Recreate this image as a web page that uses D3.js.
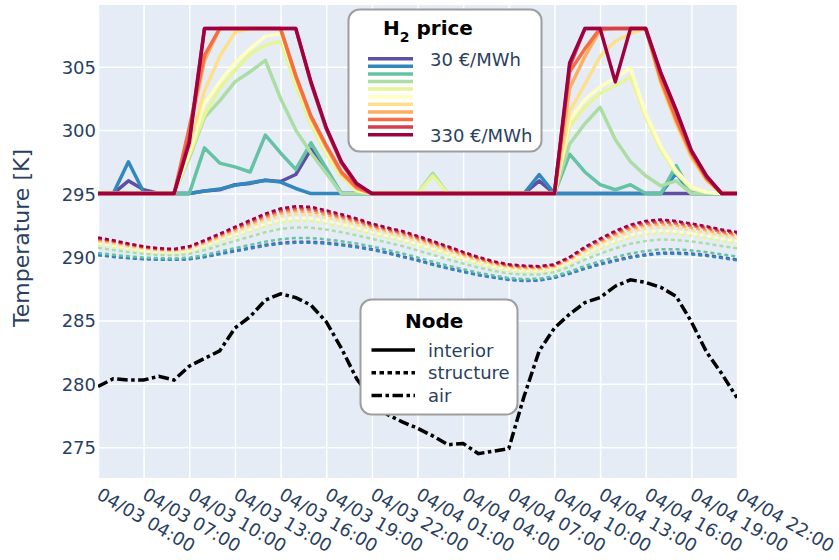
<!DOCTYPE html>
<html>
<head>
<meta charset="utf-8">
<script src="https://cdn.jsdelivr.net/npm/d3@7"></script>
<style>
  body { margin: 0; background: #ffffff; }
  svg text { font-family: "DejaVu Sans", Verdana, sans-serif; }
</style>
</head>
<body>
<svg id="chart" width="839" height="560"></svg>
<script>
// Hourly timestamps, 04/03 04:00 to 04/04 22:00
const times = d3.timeHour.range(new Date(2023, 3, 3, 4), new Date(2023, 3, 4, 23));
const tickTimes = d3.timeHour.range(new Date(2023, 3, 3, 4), new Date(2023, 3, 4, 23), 3);
const yTicks = [275, 280, 285, 290, 295, 300, 305];

// Hydrogen price scenarios (€/MWh) and their colours
const prices = [30, 60, 90, 120, 150, 180, 210, 240, 270, 300, 330];
const priceColors = d3.schemeSpectral[11].slice().reverse();
const nodes = ["interior", "structure", "air"];

// Interior temperature [K] per price scenario
const interior30  = [295,295,296.0,295.3,295,295,295,295.2,295.3,295.7,295.8,296.05,295.95,296.5,298.5,296.8,295,295,295,295,295,295,295,295,295,295,295,295,295,296.0,295,295,295,295,295,295,295,295,295,295,295,295,295];
const interior60  = [295,295,297.5,295.1,295,295,295,295.2,295.35,295.65,295.85,296.05,295.9,295.4,295,295,295,295,295,295,295,295,295,295,295,295,295,295,295,296.5,295,295,295,295,295,295,295,295,296.6,295,295,295,295];
const interior90  = [295,295,295,295,295,295,295,298.6,297.4,297.1,296.7,299.6,298.2,296.9,299.0,297.0,295,295,295,295,295,295,295,295,295,295,295,295,295,295,295,298.1,296.7,295.7,295.3,295.7,295,295,297.2,295,295,295,295];
const interior120 = [295,295,295,295,295,295,297.8,301.0,302.3,303.8,304.6,305.5,302.5,300.0,298.2,296.6,295,295,295,295,295,295,296.6,295,295,295,295,295,295,295,295,298.9,300.5,301.8,299.25,297.5,296.4,295.6,296.0,295,295,295,295];
const interior150 = [295,295,295,295,295,295,298.0,301.2,303.3,304.7,306.0,306.7,307.0,303.5,300.4,298.1,296.3,295.2,295,295,295,295,296.4,295,295,295,295,295,295,295,295,300.3,301.8,302.9,303.5,304.2,301.0,298.4,296.6,295.4,295.1,295,295];
const interior180 = [295,295,295,295,295,295,298.3,302.1,303.8,305.3,306.4,307.4,307.6,304.0,300.8,298.4,296.5,295.3,295,295,295,295,295,295,295,295,295,295,295,295,295,300.8,302.4,303.4,304.1,304.9,301.3,298.7,296.8,295.5,295.1,295,295];
const interior210 = [295,295,295,295,295,295,298.8,303.1,305.8,307.7,308,308,308,304.1,300.9,298.6,296.5,295.4,295,295,295,295,295,295,295,295,295,295,295,295,295,301.5,303.6,305.8,307.0,307.6,308,303.6,300.5,297.8,296.0,295,295];
const interior240 = [295,295,295,295,295,295,299.8,305.5,308,308,308,308,308,304.2,301.0,298.7,296.6,295.4,295,295,295,295,295,295,295,295,295,295,295,295,295,303.3,305.8,307.9,308,308,308,303.8,300.7,298.0,296.1,295,295];
const interior270 = [295,295,295,295,295,295,300.2,305.9,308,308,308,308,308,304.3,301.1,298.8,296.7,295.5,295,295,295,295,295,295,295,295,295,295,295,295,295,304.6,306.4,308,308,308,308,304.0,300.9,298.2,296.2,295,295];
const interior300 = [295,295,295,295,295,295,299.3,308,308,308,308,308,308,308,303.7,300.1,297.4,295.7,295,295,295,295,295,295,295,295,295,295,295,295,295,305.0,308,308,308,308,308,304.4,301.5,298.3,296.3,295,295];
const interior330 = [295,295,295,295,295,295,299.0,308,308,308,308,308,308,308,303.8,300.2,297.5,295.8,295,295,295,295,295,295,295,295,295,295,295,295,295,305.3,308,308,303.8,308,308,304.5,301.6,298.4,296.4,295,295];

// Structure temperature [K] per price scenario
const structure30  = [290.17,290.04,289.93,289.85,289.82,289.80,289.85,290.02,290.27,290.51,290.73,290.96,291.12,291.21,291.20,291.13,290.99,290.83,290.62,290.36,290.06,289.76,289.44,289.13,288.87,288.60,288.41,288.22,288.14,288.17,288.38,288.72,289.11,289.46,289.75,290.02,290.20,290.33,290.34,290.27,290.15,289.99,289.81];
const structure60  = [290.13,290.00,289.90,289.82,289.79,289.77,289.82,289.98,290.22,290.45,290.66,290.88,291.04,291.12,291.12,291.05,290.92,290.76,290.56,290.30,290.00,289.70,289.38,289.08,288.82,288.56,288.37,288.18,288.10,288.14,288.35,288.68,289.06,289.40,289.68,289.94,290.12,290.25,290.26,290.20,290.08,289.92,289.74];
const structure90  = [290.31,290.17,290.05,289.95,289.91,289.88,289.95,290.15,290.43,290.70,290.95,291.21,291.40,291.49,291.49,291.39,291.24,291.06,290.83,290.56,290.27,289.96,289.62,289.31,289.03,288.75,288.54,288.34,288.26,288.29,288.49,288.85,289.29,289.67,289.99,290.28,290.47,290.60,290.60,290.52,290.38,290.21,290.03];
const structure120 = [290.72,290.55,290.39,290.25,290.17,290.13,290.25,290.54,290.90,291.26,291.60,291.95,292.21,292.33,292.31,292.16,291.95,291.71,291.43,291.15,290.86,290.52,290.17,289.82,289.48,289.17,288.91,288.70,288.61,288.62,288.80,289.23,289.79,290.26,290.68,291.04,291.26,291.38,291.34,291.22,291.06,290.86,290.68];
const structure150 = [290.97,290.79,290.60,290.43,290.33,290.29,290.43,290.78,291.19,291.60,292.00,292.40,292.71,292.85,292.82,292.63,292.39,292.12,291.80,291.51,291.23,290.88,290.51,290.14,289.77,289.42,289.14,288.92,288.83,288.82,288.99,289.47,290.10,290.63,291.10,291.51,291.75,291.87,291.81,291.66,291.48,291.26,291.08];
const structure180 = [291.08,290.90,290.69,290.51,290.40,290.36,290.51,290.89,291.32,291.76,292.18,292.61,292.93,293.08,293.04,292.84,292.59,292.30,291.97,291.67,291.39,291.03,290.66,290.28,289.89,289.54,289.25,289.02,288.93,288.91,289.08,289.58,290.24,290.79,291.29,291.72,291.97,292.09,292.01,291.85,291.67,291.44,291.26];
const structure210 = [291.22,291.03,290.81,290.62,290.49,290.44,290.62,291.03,291.48,291.95,292.41,292.86,293.21,293.37,293.33,293.10,292.83,292.53,292.17,291.88,291.60,291.23,290.85,290.45,290.05,289.68,289.38,289.15,289.05,289.02,289.18,289.71,290.41,291.00,291.53,291.98,292.24,292.36,292.27,292.10,291.91,291.67,291.48];
const structure240 = [291.33,291.14,290.90,290.70,290.56,290.51,290.70,291.13,291.61,292.10,292.59,293.06,293.43,293.60,293.55,293.31,293.03,292.71,292.34,292.04,291.76,291.39,291.00,290.59,290.18,289.80,289.48,289.25,289.15,289.11,289.27,289.82,290.55,291.16,291.72,292.19,292.46,292.57,292.48,292.29,292.09,291.85,291.66];
const structure270 = [291.42,291.21,290.97,290.76,290.62,290.56,290.76,291.21,291.71,292.22,292.72,293.22,293.60,293.77,293.72,293.47,293.17,292.85,292.46,292.16,291.89,291.50,291.11,290.70,290.27,289.89,289.56,289.32,289.22,289.18,289.33,289.89,290.65,291.29,291.86,292.34,292.62,292.73,292.63,292.44,292.23,291.98,291.79];
const structure300 = [291.47,291.27,291.01,290.80,290.65,290.60,290.80,291.27,291.78,292.29,292.81,293.32,293.71,293.88,293.84,293.58,293.27,292.94,292.55,292.24,291.97,291.58,291.18,290.77,290.34,289.94,289.61,289.37,289.27,289.23,289.38,289.95,290.72,291.37,291.96,292.45,292.73,292.84,292.74,292.53,292.33,292.07,291.88];
const structure330 = [291.53,291.32,291.06,290.84,290.69,290.63,290.84,291.32,291.84,292.37,292.90,293.42,293.82,294.00,293.95,293.68,293.37,293.03,292.63,292.32,292.05,291.66,291.26,290.84,290.40,290.00,289.66,289.42,289.32,289.27,289.42,290.00,290.79,291.45,292.05,292.55,292.84,292.95,292.84,292.63,292.42,292.16,291.97];

// Outdoor air temperature [K]
const air = [279.8,280.4,280.3,280.3,280.6,280.3,281.4,282.0,282.6,284.4,285.3,286.6,287.1,286.8,286.2,284.9,282.8,280.4,278.8,277.6,277.0,276.5,275.9,275.2,275.3,274.5,274.7,274.9,279.0,282.6,284.4,285.5,286.4,286.8,287.7,288.2,288.0,287.6,286.9,284.9,282.5,280.8,278.9];

const interiorSeries = [interior30, interior60, interior90, interior120, interior150, interior180,
                        interior210, interior240, interior270, interior300, interior330];
const structureSeries = [structure30, structure60, structure90, structure120, structure150, structure180,
                         structure210, structure240, structure270, structure300, structure330];

const W = 839, H = 560;
const plot = { left: 98, right: 737, top: 5, bottom: 478 };
const TEXT = "#2a3f5f";
const nodeDash = { interior: null, structure: "4,3", air: "10.5,3.5,3.5,3.5" };

const svg = d3.select("#chart");

const x = d3.scaleTime().domain([times[0], times[times.length - 1]]).range([plot.left, plot.right]);
const y = d3.scaleLinear().domain([272.58, 309.86]).range([plot.bottom, plot.top]);

// plot background
svg.append("rect")
  .attr("x", plot.left).attr("y", plot.top)
  .attr("width", plot.right - plot.left).attr("height", plot.bottom - plot.top)
  .attr("fill", "#e5ecf6");

// grid
const gridX = svg.append("g")
  .attr("transform", `translate(0,${plot.bottom})`)
  .call(d3.axisBottom(x).tickValues(tickTimes).tickSize(-(plot.bottom - plot.top)).tickFormat(""));
const gridY = svg.append("g")
  .attr("transform", `translate(${plot.left},0)`)
  .call(d3.axisLeft(y).tickValues(yTicks).tickSize(-(plot.right - plot.left)).tickFormat(""));
[gridX, gridY].forEach(g => {
  g.select(".domain").remove();
  g.selectAll(".tick line").attr("stroke", "#ffffff").attr("stroke-width", 1.5);
});

// clip for data
svg.append("clipPath").attr("id", "plotclip")
  .append("rect").attr("x", plot.left).attr("y", plot.top)
  .attr("width", plot.right - plot.left).attr("height", plot.bottom - plot.top);
const dataG = svg.append("g").attr("clip-path", "url(#plotclip)");

const line = d3.line().x((d, i) => x(times[i])).y(d => y(d));

structureSeries.forEach((s, k) => {
  dataG.append("path").datum(s)
    .attr("d", line).attr("fill", "none")
    .attr("stroke", priceColors[k]).attr("stroke-width", 2.5)
    .attr("stroke-dasharray", nodeDash.structure);
});
interiorSeries.forEach((s, k) => {
  dataG.append("path").datum(s)
    .attr("d", line).attr("fill", "none")
    .attr("stroke", priceColors[k]).attr("stroke-width", 3.5)
    .attr("stroke-linejoin", "round");
});
dataG.append("path").datum(air)
  .attr("d", line).attr("fill", "none")
  .attr("stroke", "#000000").attr("stroke-width", 3.5)
  .attr("stroke-dasharray", nodeDash.air);

// x axis labels
const fmt = d3.timeFormat("%m/%d %H:%M");
const xAxis = svg.append("g")
  .attr("transform", `translate(0,${plot.bottom})`)
  .call(d3.axisBottom(x).tickValues(tickTimes).tickSize(0).tickFormat(fmt));
xAxis.select(".domain").remove();
xAxis.attr("font-family", null).attr("font-size", null);
xAxis.selectAll(".tick text")
  .attr("x", 0).attr("y", 0).attr("dy", null)
  .attr("text-anchor", "start")
  .attr("transform", "translate(-3,20) rotate(30)")
  .attr("fill", TEXT).style("font-size", "18px");

// y axis labels
const yAxis = svg.append("g")
  .attr("transform", `translate(${plot.left},0)`)
  .call(d3.axisLeft(y).tickValues(yTicks).tickSize(0).tickPadding(2));
yAxis.select(".domain").remove();
yAxis.attr("font-family", null).attr("font-size", null);
yAxis.selectAll(".tick text").attr("fill", TEXT).style("font-size", "18px").attr("dy", "0.36em");

svg.append("text")
  .attr("transform", `translate(29,238) rotate(-90)`)
  .attr("text-anchor", "middle")
  .attr("fill", TEXT).style("font-size", "22px")
  .text("Temperature [K]");

// legend: hydrogen price
const lg1 = svg.append("g");
lg1.append("rect")
  .attr("x", 348.5).attr("y", 9.5).attr("width", 193).attr("height", 142).attr("rx", 11)
  .attr("fill", "#ffffff").attr("stroke", "#9e9e9e").attr("stroke-width", 2);
const t1 = lg1.append("text").attr("x", 383).attr("y", 35)
  .attr("fill", "#000000").style("font-size", "20px").style("font-weight", "bold");
t1.append("tspan").text("H");
t1.append("tspan").attr("dy", 6.5).style("font-size", "14px").text("2");
t1.append("tspan").attr("dy", -6.5).text(" price");
prices.forEach((p, k) => {
  const ly = 58.7 + k * 7.6;
  lg1.append("line").attr("x1", 368).attr("x2", 413).attr("y1", ly).attr("y2", ly)
    .attr("stroke", priceColors[k]).attr("stroke-width", 3.5);
  if (k === 0 || k === prices.length - 1) {
    lg1.append("text").attr("x", 430).attr("y", ly + 6.8)
      .attr("fill", TEXT).style("font-size", "18px")
      .text(`${p} €/MWh`);
  }
});

// legend: node
const lg2 = svg.append("g");
lg2.append("rect")
  .attr("x", 360.5).attr("y", 299.5).attr("width", 157).attr("height", 115).attr("rx", 11)
  .attr("fill", "#ffffff").attr("stroke", "#9e9e9e").attr("stroke-width", 2);
lg2.append("text").attr("x", 405).attr("y", 328)
  .attr("fill", "#000000").style("font-size", "20px").style("font-weight", "bold")
  .text("Node");
nodes.forEach((n, k) => {
  const ly = 350 + k * 22.8;
  lg2.append("line").attr("x1", 371.5).attr("x2", 415).attr("y1", ly).attr("y2", ly)
    .attr("stroke", "#000000").attr("stroke-width", 3.5)
    .attr("stroke-dasharray", n === "structure" ? "4.5,3.5" : nodeDash[n]);
  lg2.append("text").attr("x", 428).attr("y", ly + 6.5)
    .attr("fill", TEXT).style("font-size", "18px").text(n);
});
</script>
</body>
</html>
